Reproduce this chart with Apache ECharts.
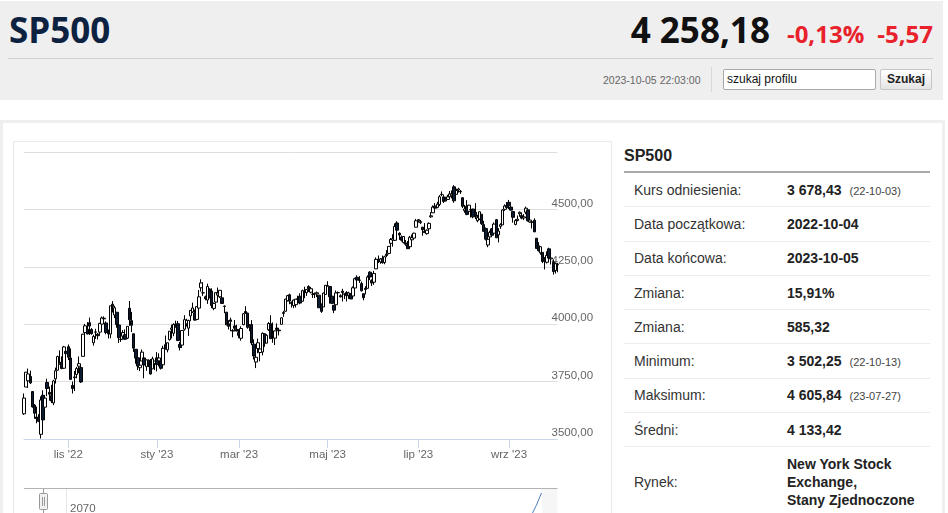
<!DOCTYPE html>
<html>
<head>
<meta charset="utf-8">
<script src="https://cdn.jsdelivr.net/npm/echarts/dist/echarts.min.js"></script>
<style>
  html,body{margin:0;padding:0;background:#fff;width:948px;height:513px;overflow:hidden;font-family:"Liberation Sans",Arial,sans-serif;}
  .abs{position:absolute;}
  #head{left:0;top:1px;width:943px;height:99px;background:#efefef;}
  #title{left:9px;top:12px;font-family:"Open Sans",sans-serif;font-weight:700;font-size:35px;line-height:35px;color:#0d2141;}
  #quote{left:0;top:12px;width:933px;height:35px;display:flex;justify-content:flex-end;align-items:baseline;font-family:"Open Sans",sans-serif;font-weight:700;line-height:35px;}
  #price{font-size:35px;color:#111;}
  .red{font-size:24px;color:#e8212b;}
  #hline{left:8px;top:58px;width:925px;height:1px;background:#d0d0d0;}
  #stamp{left:603px;top:73px;font-size:10.5px;line-height:14px;color:#666;}
  #vsep{left:711px;top:67px;width:1px;height:25px;background:#d9d9d9;}
  #search{left:723px;top:69px;width:153px;height:21px;box-sizing:border-box;border:1px solid #a9a9a9;border-radius:2px;background:#fff;font-size:12px;line-height:19px;padding-left:3px;color:#111;}
  #btn{left:880px;top:69px;width:52px;height:21px;box-sizing:border-box;border:1px solid #c6c6c6;border-radius:2px;background:linear-gradient(#ffffff,#e4e4e4);font-size:12px;font-weight:700;line-height:19px;text-align:center;color:#222;}
  #panel{left:0;top:120px;width:945px;height:420px;box-sizing:border-box;border:3px solid #efefef;border-bottom:none;}
  #chartbox{left:13px;top:141px;width:599px;height:400px;box-sizing:border-box;border:1px solid #eaeaea;}
  #chart{left:14px;top:143px;width:597px;height:370px;}
  #ttl{left:624px;top:148px;font-size:16px;line-height:16px;font-weight:700;color:#222;}
  #uline{left:624px;top:171px;width:306px;height:2px;background:#a9a9a9;}
  #rows{left:624px;top:173px;width:306px;}
  .row{display:flex;align-items:center;height:34.3px;box-sizing:border-box;border-bottom:1px solid #ececec;font-size:14px;}
  .row .k{width:153px;padding-left:10px;color:#333;}
  .row .v{font-weight:700;color:#222;}
  .row .v small{font-weight:400;font-size:11px;color:#444;margin-left:8px;}
  .row.last{height:68.4px;border-bottom:none;}
  .row.last .v{line-height:18px;}
</style>
</head>
<body>
<div id="head" class="abs"></div>
<div id="title" class="abs">SP500</div>
<div id="quote" class="abs"><span id="price">4 258,18</span><span class="red" style="margin-left:17px">-0,13%</span><span class="red" style="margin-left:13px">-5,57</span></div>
<div id="hline" class="abs"></div>
<div id="stamp" class="abs">2023-10-05 22:03:00</div>
<div id="vsep" class="abs"></div>
<div id="search" class="abs">szukaj profilu</div>
<div id="btn" class="abs">Szukaj</div>
<div id="panel" class="abs"></div>
<div id="chartbox" class="abs"></div>
<div id="chart" class="abs"></div>
<div id="ttl" class="abs">SP500</div>
<div id="uline" class="abs"></div>
<div id="rows" class="abs">
  <div class="row"><div class="k">Kurs odniesienia:</div><div class="v">3 678,43<small>(22-10-03)</small></div></div>
  <div class="row"><div class="k">Data początkowa:</div><div class="v">2022-10-04</div></div>
  <div class="row"><div class="k">Data końcowa:</div><div class="v">2023-10-05</div></div>
  <div class="row"><div class="k">Zmiana:</div><div class="v">15,91%</div></div>
  <div class="row"><div class="k">Zmiana:</div><div class="v">585,32</div></div>
  <div class="row"><div class="k">Minimum:</div><div class="v">3 502,25<small>(22-10-13)</small></div></div>
  <div class="row"><div class="k">Maksimum:</div><div class="v">4 605,84<small>(23-07-27)</small></div></div>
  <div class="row"><div class="k">Średni:</div><div class="v">4 133,42</div></div>
  <div class="row last"><div class="k">Rynek:</div><div class="v">New York Stock<br>Exchange,<br>Stany Zjednoczone</div></div>
</div>
<script>
// trading days per month
const tradingDays = [
  ['2022-10',[3,4,5,6,7,10,11,12,13,14,17,18,19,20,21,24,25,26,27,28,31]],
  ['2022-11',[1,2,3,4,7,8,9,10,11,14,15,16,17,18,21,22,23,25,28,29,30]],
  ['2022-12',[1,2,5,6,7,8,9,12,13,14,15,16,19,20,21,22,23,27,28,29,30]],
  ['2023-01',[3,4,5,6,9,10,11,12,13,17,18,19,20,23,24,25,26,27,30,31]],
  ['2023-02',[1,2,3,6,7,8,9,10,13,14,15,16,17,21,22,23,24,27,28]],
  ['2023-03',[1,2,3,6,7,8,9,10,13,14,15,16,17,20,21,22,23,24,27,28,29,30,31]],
  ['2023-04',[3,4,5,6,10,11,12,13,14,17,18,19,20,21,24,25,26,27,28]],
  ['2023-05',[1,2,3,4,5,8,9,10,11,12,15,16,17,18,19,22,23,24,25,26,30,31]],
  ['2023-06',[1,2,5,6,7,8,9,12,13,14,15,16,20,21,22,23,26,27,28,29,30]],
  ['2023-07',[3,5,6,7,10,11,12,13,14,17,18,19,20,21,24,25,26,27,28,31]],
  ['2023-08',[1,2,3,4,7,8,9,10,11,14,15,16,17,18,21,22,23,24,25,28,29,30,31]],
  ['2023-09',[1,5,6,7,8,11,12,13,14,15,18,19,20,21,22,25,26,27,28,29]],
  ['2023-10',[2,3,4,5]]
];

const opens = [
  3609.78,3726.46,3753.25,3771.97,3706.74,3647.51,3595.86,3590.83,3520.37,3690.41,3638.65,3746.26,3703.11,3689.05,3657.10,3762.01,3799.44,3825.97,3834.69,3808.26,3881.85,
  3901.79,3852.90,3733.25,3766.98,3780.71,3817.02,3810.94,3859.89,3963.72,3977.97,4006.41,3976.82,3919.26,3966.39,3956.23,3965.51,4000.30,4023.34,4005.36,3964.19,3957.18,
  4087.14,4040.17,4052.02,3996.63,3933.28,3947.79,3954.17,3939.29,4069.38,4015.54,3958.37,3890.91,3853.79,3810.47,3839.49,3853.26,3815.11,3843.34,3829.56,3805.45,3829.06,
  3853.29,3840.36,3839.74,3823.37,3910.82,3888.57,3932.35,3977.57,3960.60,3999.28,4002.25,3911.84,3909.04,3978.14,4001.74,3982.71,4036.08,4053.72,4049.27,4020.85,
  4070.07,4158.68,4136.69,4119.57,4105.35,4153.47,4144.25,4068.92,4096.62,4126.70,4119.50,4114.75,4077.39,4052.35,4001.83,4018.60,3973.24,3992.36,3977.19,
  3963.34,3938.68,3998.02,4055.15,4048.26,3987.55,3998.66,3912.77,3835.12,3894.01,3876.74,3878.93,3958.69,3917.47,3975.89,4002.04,3959.21,3939.21,3982.93,3974.13,3999.53,4046.74,4056.18,
  4102.20,4128.03,4094.50,4081.15,4085.20,4110.29,4121.72,4100.04,4140.11,4137.17,4164.26,4139.33,4130.48,4132.14,4132.07,4126.43,4087.78,4075.29,4129.63,
  4166.79,4164.10,4122.25,4082.61,4084.73,4136.98,4124.25,4143.74,4132.24,4138.54,4126.65,4127.95,4122.85,4157.68,4204.15,4190.78,4176.80,4132.96,4155.71,4156.16,4226.71,4190.74,
  4183.03,4241.01,4282.99,4271.34,4285.47,4268.69,4304.88,4308.32,4352.61,4366.29,4365.33,4440.95,4396.11,4380.01,4355.40,4354.17,4344.84,4337.36,4367.48,4374.94,4422.44,
  4450.48,4442.04,4422.62,4404.54,4394.23,4415.55,4467.69,4485.26,4514.61,4508.86,4521.78,4563.87,4554.38,4550.16,4543.39,4555.19,4558.96,4598.26,4565.75,4584.82,
  4578.83,4550.93,4494.27,4513.96,4491.58,4498.03,4501.57,4487.16,4450.69,4458.13,4478.87,4433.79,4416.32,4344.88,4380.28,4415.33,4396.44,4455.16,4389.38,4426.03,4432.75,4500.34,4517.01,
  4530.60,4510.06,4490.35,4434.55,4451.30,4480.98,4473.27,4462.65,4487.78,4497.98,4445.13,4445.41,4452.81,4374.36,4341.74,4310.62,4312.88,4282.63,4269.65,4328.18,
  4284.52,4269.75,4233.83,4259.31
];
const highs = [
  3698.35,3791.92,3806.91,3797.93,3706.74,3652.17,3640.66,3608.34,3685.41,3712.00,3689.73,3762.79,3728.58,3736.00,3757.89,3810.74,3862.85,3886.15,3859.95,3905.42,3893.73,
  3911.79,3894.44,3750.59,3796.34,3813.95,3859.40,3818.20,3958.33,4001.48,4008.97,4028.84,3983.09,3954.33,3979.89,3962.00,4005.88,4033.78,4034.02,4012.27,3976.77,4080.11,
  4100.51,4080.48,4052.45,4001.51,3957.57,3974.19,3977.02,3990.71,4100.96,4053.76,3958.37,3890.91,3854.86,3838.24,3889.82,3853.26,3845.80,3846.65,3848.32,3858.19,3839.85,
  3878.46,3873.16,3839.74,3906.19,3950.57,3919.83,3970.07,3997.76,4003.95,4015.39,4014.16,3922.94,3972.96,4039.31,4023.92,4019.55,4061.57,4094.21,4063.85,4077.16,
  4148.95,4195.44,4182.36,4124.63,4176.54,4156.85,4156.23,4094.36,4138.90,4159.77,4148.11,4136.54,4081.51,4052.35,4017.37,4028.30,3978.25,4018.05,3997.50,
  3971.73,3990.84,4048.29,4078.49,4050.00,4000.41,4017.81,3934.05,3905.05,3937.29,3894.26,3964.46,3958.91,3956.62,4009.08,4039.49,4007.66,3972.74,4003.83,3979.20,4030.59,4057.85,4110.75,
  4127.66,4133.13,4099.69,4107.32,4109.50,4124.26,4134.37,4150.26,4163.19,4151.72,4169.48,4162.57,4148.57,4138.02,4142.41,4126.43,4089.67,4138.24,4170.06,
  4186.92,4164.10,4148.30,4082.61,4147.02,4142.30,4130.35,4154.28,4132.80,4143.74,4141.25,4135.54,4164.67,4202.20,4212.91,4209.22,4185.68,4132.96,4165.74,4212.87,4231.10,4195.44,
  4232.43,4290.67,4299.28,4288.33,4299.19,4298.01,4322.62,4340.13,4375.37,4391.82,4439.20,4448.47,4400.15,4386.22,4382.25,4366.55,4362.06,4384.42,4390.35,4398.39,4458.48,
  4456.46,4454.06,4422.62,4440.39,4412.60,4443.64,4488.34,4517.38,4527.76,4532.85,4562.30,4578.43,4564.74,4555.00,4563.41,4580.62,4582.47,4605.84,4590.16,4594.22,
  4584.62,4550.93,4519.49,4540.34,4519.84,4503.31,4502.44,4527.37,4476.23,4490.33,4478.87,4449.95,4421.17,4381.82,4407.55,4418.59,4443.18,4458.30,4418.46,4439.56,4500.14,4521.65,4532.26,
  4541.25,4514.29,4490.35,4457.81,4473.53,4490.77,4487.11,4479.39,4511.99,4497.98,4466.36,4449.85,4461.03,4375.70,4357.40,4338.51,4313.01,4292.07,4317.27,4333.15,
  4300.58,4281.15,4268.50,4267.13
];
const lows = [
  3604.93,3726.46,3722.66,3739.22,3636.87,3588.10,3568.45,3573.86,3502.25,3579.68,3638.65,3686.53,3666.51,3656.44,3647.42,3741.65,3799.44,3824.07,3803.79,3808.26,3863.18,
  3843.80,3758.68,3698.15,3708.84,3764.70,3786.28,3744.22,3859.89,3944.82,3956.40,3953.17,3954.34,3906.54,3935.98,3933.34,3956.88,3998.66,4020.76,3955.77,3937.65,3938.58,
  4050.87,4026.63,3984.49,3918.39,3922.68,3935.83,3933.04,3935.30,3993.03,3965.65,3879.45,3827.91,3800.04,3795.62,3839.49,3764.49,3797.01,3813.22,3780.78,3805.45,3800.34,
  3794.33,3815.77,3802.42,3809.56,3890.42,3877.29,3928.54,3937.56,3947.67,3984.57,3926.59,3885.54,3897.86,3971.64,3989.79,3949.06,4013.29,4048.70,4015.55,4020.44,
  4037.20,4141.88,4123.36,4103.98,4088.39,4111.67,4069.67,4060.79,4092.67,4095.01,4113.86,4089.49,4047.95,3995.19,3976.90,3969.19,3943.08,3973.55,3968.98,
  3939.05,3928.16,3995.17,4044.61,3980.31,3969.76,3908.70,3846.32,3808.86,3873.63,3838.24,3864.11,3901.27,3916.89,3971.19,3936.17,3919.05,3909.16,3970.49,3951.53,3999.53,4032.10,4056.18,
  4098.79,4086.87,4072.56,4069.84,4072.55,4102.61,4086.94,4099.40,4113.20,4123.18,4140.36,4134.49,4114.57,4113.86,4117.77,4071.38,4049.35,4075.29,4127.18,
  4164.12,4089.72,4088.86,4048.28,4084.73,4123.81,4116.65,4098.92,4109.29,4099.12,4110.27,4109.86,4113.62,4153.50,4180.20,4179.68,4142.54,4103.98,4129.73,4156.16,4192.18,4166.15,
  4171.64,4241.01,4266.82,4263.09,4263.96,4261.07,4291.70,4304.37,4337.66,4337.85,4362.60,4407.44,4367.19,4360.14,4351.82,4341.34,4328.08,4335.00,4360.22,4371.97,4422.44,
  4442.29,4436.61,4385.05,4397.40,4389.92,4408.46,4463.23,4483.99,4499.56,4504.90,4514.59,4557.48,4527.56,4535.79,4541.29,4552.42,4547.58,4528.56,4564.01,4573.14,
  4567.53,4505.75,4485.54,4474.55,4491.15,4464.39,4461.33,4457.92,4443.98,4453.44,4432.19,4403.55,4364.83,4335.31,4360.30,4382.77,4396.44,4375.55,4356.29,4414.98,4431.68,4493.59,4507.39,
  4501.35,4496.01,4442.38,4430.46,4448.38,4467.89,4456.83,4453.52,4478.69,4447.21,4442.11,4416.61,4401.38,4329.17,4316.49,4302.70,4265.98,4238.63,4264.38,4274.86,
  4260.21,4216.45,4220.48,4225.91
];
const closes = [
  3678.43,3790.93,3783.28,3744.52,3639.66,3612.39,3588.84,3577.03,3669.91,3583.07,3677.95,3719.98,3695.16,3665.78,3752.75,3797.34,3859.11,3830.60,3807.30,3901.06,3871.98,
  3856.10,3759.69,3719.89,3770.55,3806.80,3828.11,3748.57,3956.37,3992.93,3957.25,3991.73,3958.79,3946.56,3965.34,3949.94,4003.58,4027.26,4026.12,3963.94,3957.63,4080.11,
  4076.57,4071.70,3998.84,3941.26,3933.92,3963.51,3934.38,3990.56,4019.65,3995.32,3895.75,3852.36,3817.66,3821.62,3878.44,3822.39,3844.82,3829.25,3783.22,3849.28,3839.50,
  3824.14,3852.97,3808.10,3895.08,3892.09,3919.25,3969.61,3983.17,3999.09,3990.97,3928.86,3898.85,3972.61,4019.81,4016.95,4016.22,4060.43,4070.56,4017.77,4076.60,
  4119.21,4179.76,4136.48,4111.08,4164.00,4117.86,4081.50,4090.46,4137.29,4136.13,4147.60,4090.41,4079.09,3997.34,3991.05,4012.32,3970.04,3982.24,3970.15,
  3951.39,3981.35,4045.64,4048.42,3986.37,3992.01,3918.32,3861.59,3855.76,3919.29,3891.93,3960.28,3916.64,3951.57,4002.87,3936.97,3948.72,3970.99,3977.53,3971.27,4027.81,4050.83,4109.31,
  4124.51,4100.60,4090.38,4105.02,4109.11,4108.94,4091.95,4146.22,4137.64,4151.32,4154.87,4154.52,4129.79,4133.52,4137.04,4071.63,4055.99,4135.35,4169.48,
  4167.87,4119.58,4090.75,4061.22,4136.25,4138.12,4119.17,4137.64,4130.62,4124.08,4136.28,4109.90,4158.77,4198.05,4191.98,4192.63,4145.58,4115.24,4151.28,4205.45,4205.52,4179.83,
  4221.02,4282.37,4273.79,4283.85,4267.52,4293.93,4298.86,4338.93,4369.01,4372.59,4425.84,4409.59,4388.71,4365.69,4381.89,4348.33,4328.82,4378.41,4376.86,4396.44,4450.38,
  4455.59,4446.82,4411.59,4398.95,4409.53,4439.26,4472.16,4510.04,4505.42,4522.79,4554.98,4565.72,4534.87,4536.34,4554.64,4567.46,4566.75,4537.41,4582.23,4588.96,
  4576.73,4513.39,4501.89,4478.03,4518.44,4499.38,4467.71,4468.83,4464.05,4489.72,4437.86,4404.33,4370.36,4369.71,4399.77,4387.55,4436.01,4376.31,4405.71,4433.31,4497.63,4514.87,4507.66,
  4515.77,4496.83,4465.48,4451.14,4457.49,4487.46,4461.90,4467.44,4505.10,4450.32,4453.53,4443.95,4402.20,4330.00,4320.06,4337.44,4273.53,4274.51,4299.70,4288.05,
  4288.39,4229.45,4263.75,4258.18
];

const monthNames = ['sty','lut','mar','kwi','maj','cze','lip','sie','wrz','paź','lis','gru'];
const labelMonths = [1,3,5,7,9,11];
const yTicks = {min:3500, max:4750, step:250};

const dates = [];
tradingDays.forEach(([ym, days]) => days.forEach(d => dates.push(ym + '-' + String(d).padStart(2,'0'))));
const candles = dates.map((d,i) => [opens[i], closes[i], lows[i], highs[i]]);

function isMonthStart(i) {
  if (i === 0) return false;
  const m = +dates[i].slice(5,7);
  return dates[i].slice(0,7) !== dates[i-1].slice(0,7) && labelMonths.includes(m);
}
function fmtDate(v) {
  const m = +v.slice(5,7);
  return monthNames[m-1] + " '" + v.slice(2,4);
}

const chart = echarts.init(document.getElementById('chart'), null, {renderer:'canvas'});
chart.setOption({
  animation:false,
  grid:{left:10, right:53.5, top:9, height:287},
  xAxis:{
    type:'category', data:dates, boundaryGap:false,
    axisLine:{lineStyle:{color:'#ccd6eb'}},
    axisTick:{interval:(i)=>isMonthStart(i), length:9, lineStyle:{color:'#ccd6eb'}},
    axisLabel:{interval:(i)=>isMonthStart(i), formatter:fmtDate, color:'#666', fontSize:11.5, fontFamily:'Liberation Sans, Arial, sans-serif', margin:10},
    splitLine:{show:false}
  },
  yAxis:{
    type:'value', position:'right', min:yTicks.min, max:yTicks.max, interval:yTicks.step,
    axisLine:{show:false}, axisTick:{show:false},
    splitLine:{lineStyle:{color:'#dedede'}},
    axisLabel:{
      margin:-6, color:'#666', fontSize:11.5, fontFamily:'Liberation Sans, Arial, sans-serif', verticalAlign:'bottom',
      formatter:(v)=> v === yTicks.max ? '' : v.toFixed(2).replace('.', ',')
    }
  },
  series:[{
    type:'candlestick', data:candles, barWidth:3,
    itemStyle:{color:'#ffffff', color0:'#0b1b34', borderColor:'#000000', borderColor0:'#000000', borderWidth:1}
  }],
  graphic:[
    {type:'line', shape:{x1:10, y1:345.5, x2:543.5, y2:345.5}, style:{stroke:'#b3b3b3', lineWidth:1}},
    {type:'line', shape:{x1:52.5, y1:346, x2:52.5, y2:372}, style:{stroke:'#e6e6e6', lineWidth:1}},
    {type:'line', shape:{x1:29.5, y1:346, x2:29.5, y2:372}, style:{stroke:'#999', lineWidth:1}},
    {type:'rect', shape:{x:25.5, y:350.5, width:8, height:16, r:1}, style:{fill:'#f2f2f2', stroke:'#999', lineWidth:1}},
    {type:'line', shape:{x1:28.5, y1:354, x2:28.5, y2:363}, style:{stroke:'#999', lineWidth:1}},
    {type:'line', shape:{x1:30.5, y1:354, x2:30.5, y2:363}, style:{stroke:'#999', lineWidth:1}},
    {type:'text', x:56, y:360, style:{text:'2070', fill:'#666', font:'11.5px "Liberation Sans", Arial, sans-serif'}},
    {type:'rect', shape:{x:528, y:346, width:15.5, height:26}, style:{fill:'#f6f6f6'}},
    {type:'bezierCurve', shape:{x1:517.5, y1:372, cpx1:522, cpy1:364, x2:527.5, y2:350}, style:{stroke:'#4a7ab8', lineWidth:1, fill:null}}
  ]
});
</script>
</body>
</html>
